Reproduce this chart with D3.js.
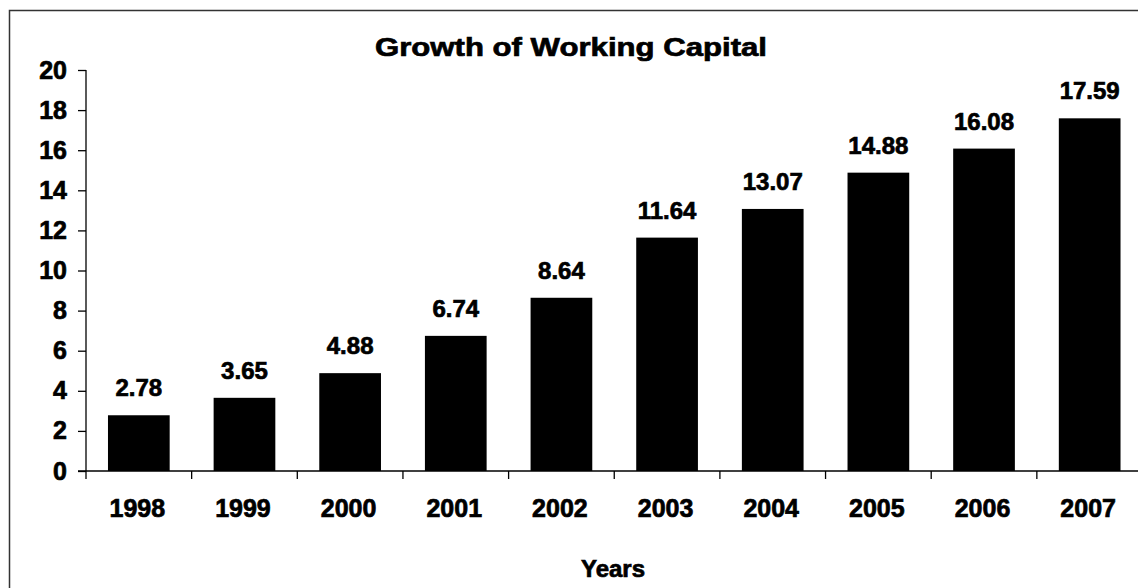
<!DOCTYPE html>
<html>
<head>
<meta charset="utf-8">
<script src="https://cdn.jsdelivr.net/npm/d3@7/dist/d3.min.js"></script>
<style>
  html, body { margin: 0; padding: 0; background: #fff; }
  svg { display: block; }
  text { font-family: "Liberation Sans", Arial, sans-serif; font-weight: bold; fill: #000; stroke: #000; stroke-width: 0.7px; }
</style>
</head>
<body>
<svg id="chart" width="1138" height="588"></svg>
<script>
// Working capital by year
const years = ["1998", "1999", "2000", "2001", "2002", "2003", "2004", "2005", "2006", "2007"];
const capital = [2.78, 3.65, 4.88, 6.74, 8.64, 11.64, 13.07, 14.88, 16.08, 17.59];
const yTicks = [0, 2, 4, 6, 8, 10, 12, 14, 16, 18, 20];
const chartTitle = "Growth of Working Capital";
const xTitle = "Years";

const W = 1138, H = 588;
const svg = d3.select("#chart");

// Outer frame (top and left edges visible)
svg.append("path")
  .attr("d", `M9.5,${H} V10.5 H${W}`)
  .attr("fill", "none")
  .attr("stroke", "#333")
  .attr("stroke-width", 1.5);

const plotLeft = 86, plotRight = 1142.5, plotTop = 70, plotBottom = 471;

// Category slots (ticks sit on slot boundaries) and bars inside them
const xSlot = d3.scaleBand().domain(years).range([plotLeft, plotRight]).padding(0);
const xBar = d3.scaleBand().domain(years).range([plotLeft, plotRight])
  .paddingInner(0.416).paddingOuter(0.208);
const y = d3.scaleLinear().domain([0, 20]).range([plotBottom, plotTop]);

// Bars
svg.append("g").selectAll("rect")
  .data(years)
  .join("rect")
  .attr("x", (d) => xBar(d))
  .attr("width", xBar.bandwidth())
  .attr("y", (d, i) => y(capital[i]))
  .attr("height", (d, i) => y(0) - y(capital[i]))
  .attr("fill", "#000");

// Value labels
svg.append("g").selectAll("text")
  .data(years)
  .join("text")
  .attr("x", (d) => xBar(d) + xBar.bandwidth() / 2)
  .attr("y", (d, i) => y(capital[i]) - 19)
  .attr("text-anchor", "middle")
  .attr("font-size", 24)
  .text((d, i) => capital[i].toFixed(2));

// Y axis
const yAxis = d3.axisLeft(y).tickValues(yTicks).tickSize(8).tickPadding(11).tickFormat(d3.format("d"));
const gy = svg.append("g").attr("transform", `translate(${plotLeft},0)`).call(yAxis);
gy.select(".domain").attr("d", `M0,${plotTop} V${plotBottom + 8}`).attr("stroke", "#000").attr("stroke-width", 1.3);
gy.selectAll(".tick line").attr("stroke", "#000").attr("stroke-width", 1.3);
gy.selectAll(".tick text")
  .attr("font-size", 25)
  .attr("font-family", "Liberation Sans, Arial, sans-serif")
  .attr("font-weight", "bold")
  .attr("fill", "#000");

// X axis: baseline, boundary ticks and category labels
const gx = svg.append("g");
gx.append("line")
  .attr("x1", plotLeft - 8).attr("x2", plotRight)
  .attr("y1", y(0)).attr("y2", y(0))
  .attr("stroke", "#000").attr("stroke-width", 1.3);
gx.selectAll("line.tick")
  .data(years.slice(1).concat(["end"]))
  .join("line")
  .attr("class", "tick")
  .attr("x1", (d, i) => i < years.length - 1 ? xSlot(d) : plotRight)
  .attr("x2", (d, i) => i < years.length - 1 ? xSlot(d) : plotRight)
  .attr("y1", y(0)).attr("y2", y(0) + 8)
  .attr("stroke", "#000").attr("stroke-width", 1.3);
gx.selectAll("text")
  .data(years)
  .join("text")
  .attr("x", (d) => xSlot(d) + xSlot.bandwidth() / 2 - 1.5)
  .attr("y", 517)
  .attr("text-anchor", "middle")
  .attr("font-size", 25)
  .text((d) => d);

// Titles
svg.append("text")
  .attr("x", 571).attr("y", 56)
  .attr("text-anchor", "middle")
  .attr("font-size", 26)
  .attr("textLength", 392)
  .attr("lengthAdjust", "spacingAndGlyphs")
  .text(chartTitle);

svg.append("text")
  .attr("x", 613).attr("y", 577)
  .attr("text-anchor", "middle")
  .attr("font-size", 24)
  .text(xTitle);
</script>
</body>
</html>
